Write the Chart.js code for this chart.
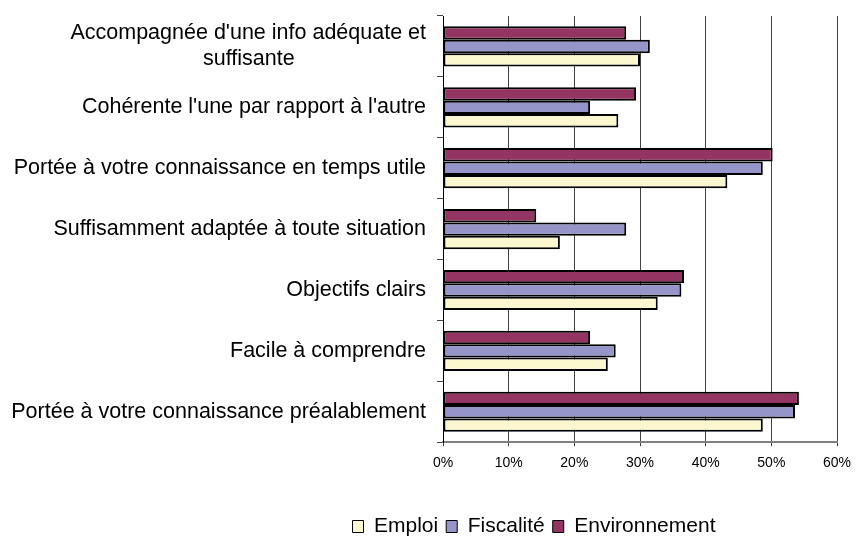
<!DOCTYPE html>
<html>
<head>
<meta charset="utf-8">
<script src="https://cdn.jsdelivr.net/npm/chart.js@4/dist/chart.umd.min.js"></script>
<style>
  html, body { margin: 0; padding: 0; background: #fff; }
  #wrap { width: 859px; height: 536px; }
</style>
</head>
<body>
<div id="wrap"><canvas id="chart"></canvas></div>
<script>
// Categories, top to bottom
const categories = [
    ["Accompagnée d'une info adéquate et", "suffisante"],
    "Cohérente l'une par rapport à l'autre",
    "Portée à votre connaissance en temps utile",
    "Suffisamment adaptée à toute situation",
    "Objectifs clairs",
    "Facile à comprendre",
    "Portée à votre connaissance préalablement"
];

// Values in %
const emploi        = [30.0, 26.7, 43.3, 17.8, 32.7, 25.1, 48.7];
const fiscalite     = [31.5, 22.4, 48.7, 27.9, 36.3, 26.3, 53.6];
const environnement = [27.9, 29.4, 50.2, 14.2, 36.7, 22.4, 54.2];

const xTicks = [0, 10, 20, 30, 40, 50, 60];

const FONT = 'Liberation Sans, Arial, sans-serif';
const LABEL_SIZE = 21.5;

Chart.defaults.font.family = FONT;
Chart.defaults.color = '#000';

// Pad the shorter line of a two-line label so it sits centred under the longer one
function centerLines(lines, size) {
    if (!Array.isArray(lines)) return lines;
    const ctx = document.createElement('canvas').getContext('2d');
    ctx.font = size + 'px ' + FONT;
    const widest = Math.max(...lines.map(l => ctx.measureText(l).width));
    const space = ctx.measureText(' ').width;
    return lines.map(l => {
        const n = Math.round((widest - ctx.measureText(l).width) / 2 / space);
        return l + ' '.repeat(n);
    });
}

// Move the legend right and down, as in the original layout
const legendShift = {
    id: 'legendShift',
    afterLayout(chart) {
        const lg = chart.legend;
        lg.left += 110;
        lg.right += 110;
        lg.top += 11;
        lg.bottom += 11;
    }
};

const barStyle = {
    borderColor: '#000',
    borderWidth: 2,
    borderSkipped: false,
    categoryPercentage: 0.66,
    barPercentage: 1.0
};

new Chart(document.getElementById('chart'), {
    type: 'bar',
    data: {
        labels: categories.map(c => centerLines(c, LABEL_SIZE)),
        datasets: [
            { label: 'Environnement', data: environnement, backgroundColor: '#933462', ...barStyle },
            { label: 'Fiscalité', data: fiscalite, backgroundColor: '#9595C9', ...barStyle },
            { label: 'Emploi', data: emploi, backgroundColor: '#FBF7CF', ...barStyle }
        ]
    },
    options: {
        indexAxis: 'y',
        responsive: true,
        maintainAspectRatio: false,
        animation: false,
        layout: {
            padding: { top: 16, right: 22, left: 11, bottom: 0 }
        },
        plugins: {
            tooltip: { enabled: false },
            legend: {
                position: 'bottom',
                labels: {
                    font: { size: 21 },
                    boxWidth: 11,
                    boxHeight: 12,
                    padding: 8,
                    sort: (a, b) => b.datasetIndex - a.datasetIndex,
                    generateLabels: chart => chart.data.datasets.map((ds, i) => ({
                        text: ds.label,
                        fillStyle: ds.backgroundColor,
                        strokeStyle: '#000',
                        lineWidth: 1,
                        datasetIndex: i
                    }))
                }
            }
        },
        scales: {
            x: {
                min: 0,
                max: 60,
                afterBuildTicks: scale => {
                    scale.ticks = xTicks.map(v => ({ value: v }));
                },
                afterFit: scale => {
                    scale.height += 16;
                    scale.paddingLeft = 0;
                    scale.paddingRight = 0;
                },
                ticks: {
                    font: { size: 14 },
                    padding: 9,
                    callback: v => v + '%'
                },
                grid: {
                    color: '#404040',
                    lineWidth: 1,
                    tickLength: 4
                },
                border: {
                    color: '#7f7f7f',
                    width: 2
                }
            },
            y: {
                afterFit: scale => {
                    scale.width = 432;
                    scale.paddingTop = 0;
                    scale.paddingBottom = 0;
                },
                ticks: {
                    font: { size: LABEL_SIZE },
                    padding: 11
                },
                grid: {
                    drawOnChartArea: false,
                    offset: true,
                    tickLength: 6,
                    color: '#404040'
                },
                border: {
                    color: '#000',
                    width: 1
                }
            }
        }
    },
    plugins: [legendShift]
});
</script>
</body>
</html>
